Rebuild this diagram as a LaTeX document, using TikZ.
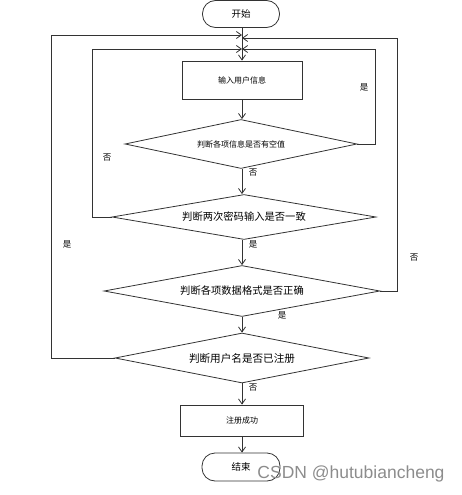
\documentclass[tikz,border=0pt]{standalone}
\usepackage{fontspec}
\setmainfont{Liberation Sans}
\newfontfamily\cjk{Noto Sans CJK SC}
\usetikzlibrary{shapes.geometric,arrows.meta}
\begin{document}
\begin{tikzpicture}[x=1pt,y=-1pt,
  every node/.style={font=\cjk},
  ln/.style={draw=black!80,line width=0.8pt},
  arr/.style={ln,-{Straight Barb[length=5pt,width=7pt]}},
  term/.style={ln,rounded corners=13pt,minimum width=77pt,minimum height=27pt,inner sep=0pt},
  proc/.style={ln,rectangle,inner sep=0pt},
  dec/.style={ln,diamond,shape aspect=5,inner sep=0pt},
  lab/.style={font=\cjk\fontsize{8.5}{9}\selectfont,inner sep=0pt}]
\useasboundingbox (0,0) rectangle (462,495);
\node[term,font=\cjk\fontsize{9.5}{10}\selectfont] (start) at (241,14) {开始};
\node[proc,minimum width=120pt,minimum height=38pt,font=\cjk\fontsize{8}{9}\selectfont] (in) at (242,80) {输入用户信息};
\node[dec,minimum width=232pt,minimum height=49pt,font=\cjk\fontsize{8}{9}\selectfont] (d1) at (241,144) {判断各项信息是否有空值};
\node[dec,minimum width=264pt,minimum height=45pt,font=\cjk\fontsize{10.3}{11}\selectfont] (d2) at (244,217) {判断两次密码输入是否一致};
\node[dec,minimum width=276pt,minimum height=51pt,font=\cjk\fontsize{10.3}{11}\selectfont] (d3) at (242,291) {判断各项数据格式是否正确};
\node[dec,minimum width=254pt,minimum height=50pt,font=\cjk\fontsize{10.6}{11}\selectfont] (d4) at (242,358) {判断用户名是否已注册};
\node[proc,minimum width=123pt,minimum height=31pt,font=\cjk\fontsize{8}{9}\selectfont] (ok) at (242,420.5) {注册成功};
\node[term,minimum width=78pt,minimum height=28pt,font=\cjk\fontsize{9.5}{10}\selectfont] (end) at (241,467) {结束};
\coordinate (m35) at (242,35);
\coordinate (m38) at (242,38);
\coordinate (m49) at (242,49);
\draw[arr] (start.south -| in.north) -- (in.north);
\draw[arr] (in.south) -- (d1.north -| in.south);
\draw[arr] (d1.south -| in.south) -- (d2.north -| in.south);
\draw[arr] (d2.south -| in.south) -- (d3.north);
\draw[arr] (d3.south) -- (d4.north);
\draw[arr] (d4.south) -- (ok.north);
\draw[arr] (ok.south) -- (end.north -| ok.south);
\draw[arr] (d1.east) -- (375,144) |- (m49);
\draw[arr] (d2.west) -- (92,217) |- (m49);
\draw[arr] (d3.east) -- (397,291) |- (m38);
\draw[arr] (d4.west) -- (51,358) |- (m35);
\node[lab] (l1) at (364,87) {是};
\node[lab] (l2) at (107,158) {否};
\node[lab] (l3) at (253,173) {否};
\node[lab] (l4) at (253,244) {是};
\node[lab] (l5) at (67,244) {是};
\node[lab] (l6) at (414,258) {否};
\node[lab] (l7) at (282,315) {是};
\node[lab] (l8) at (253,388) {否};
\node[font=\fontsize{17.5}{18}\selectfont,text=black!45,inner sep=0pt] (wm) at (351,474) {CSDN @hutubiancheng};
\end{tikzpicture}
\end{document}
